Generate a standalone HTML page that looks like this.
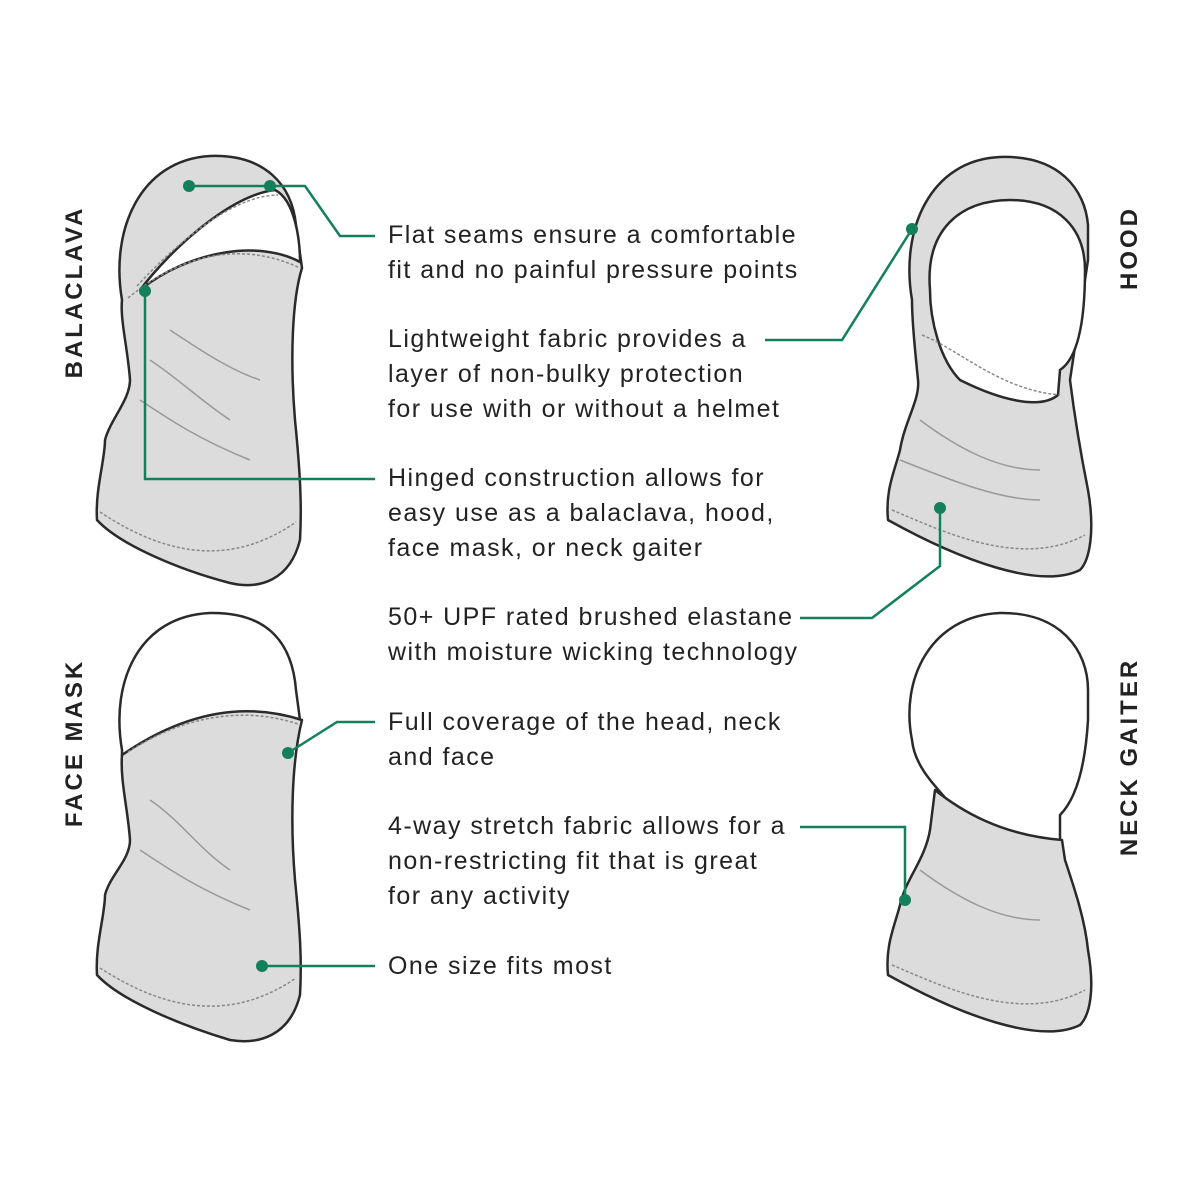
<!DOCTYPE html>
<html><head><meta charset="utf-8"><style>
html,body{margin:0;padding:0;background:#fff;}
svg{display:block}
text{font-family:"Liberation Sans",sans-serif;fill:#222}
.t{font-size:25px;letter-spacing:1.45px}
.v{font-size:24px;font-weight:bold;letter-spacing:3px}
.g{fill:#dcdcdc;stroke:#2a2a2a;stroke-width:2.5;stroke-linejoin:round}
.w{fill:#fff;stroke:#2a2a2a;stroke-width:2.5}
.s{fill:none;stroke:#888;stroke-width:1.5;stroke-dasharray:3 2}
.c{fill:none;stroke:#13805b;stroke-width:2.5}
.d{fill:#13805b}
.f{fill:none;stroke:#999;stroke-width:1.5}
</style></head><body>
<svg width="1200" height="1200" viewBox="0 0 1200 1200">
<!-- BALACLAVA -->
<path class="g" d="M122,300 C110,230 140,160 210,156 C265,154 292,185 296,225 L302,268 C292,300 290,360 295,420 C300,470 302,505 300,540 C290,580 260,590 230,583 C180,570 120,545 97,520 C95,490 105,460 105,440 C110,420 130,400 130,380 C128,350 120,320 122,300Z"/>
<path class="w" d="M140,290 C170,250 230,195 275,190 C295,200 300,240 300,262 C260,240 190,250 140,290Z"/>
<path class="s" d="M128,298 C180,255 240,240 300,268"/>
<path class="s" d="M137,286 C170,250 230,195 278,195"/>
<path class="s" d="M100,512 C150,545 220,575 296,522"/>
<path class="f" d="M150,360 C180,380 200,400 230,420 M140,400 C170,420 200,440 250,460 M170,330 C200,350 230,370 260,380"/>
<!-- HOOD -->
<path class="g" d="M912,300 C900,230 930,160 1000,157 C1060,155 1085,190 1088,225 L1088,260 L1070,380 C1075,420 1080,450 1088,490 C1095,530 1090,560 1080,570 C1040,590 960,560 888,520 C885,490 895,470 900,450 C905,420 920,400 918,380 C915,350 912,320 912,300Z"/>
<path class="w" d="M930,290 C925,230 960,200 1010,200 C1060,200 1085,230 1085,270 C1085,330 1075,360 1060,370 L1058,395 C1040,410 1000,400 960,380 C940,360 930,320 930,290Z"/>
<path class="s" d="M922,335 C960,350 1000,390 1060,395"/>
<path class="s" d="M892,510 C940,530 1020,570 1085,535"/>
<path class="f" d="M920,420 C960,450 1000,470 1040,470 M900,460 C950,480 1000,500 1040,500"/>
<!-- FACE MASK -->
<path class="w" d="M122,750 C110,680 140,616 210,613 C265,612 292,640 296,690 L300,720 L122,755Z"/>
<path class="g" d="M122,755 C180,715 240,700 302,720 C292,760 290,820 295,880 C300,930 302,960 300,995 C290,1035 260,1045 230,1040 C180,1025 120,1000 97,975 C95,945 105,915 105,895 C110,875 130,860 130,840 C128,810 120,780 122,755Z"/>
<path class="s" d="M128,752 C180,718 240,705 298,724"/>
<path class="s" d="M100,968 C150,1000 220,1030 296,978"/>
<path class="f" d="M150,800 C180,820 200,850 230,870 M140,850 C170,870 200,890 250,910"/>
<!-- NECK GAITER -->
<path class="w" d="M912,740 C900,680 930,616 1000,613 C1060,612 1088,650 1088,690 L1088,720 C1085,770 1075,800 1060,815 L1060,840 C1030,840 990,830 960,815 C940,790 915,770 912,740Z"/>
<path class="g" d="M935,790 C960,810 1000,835 1062,840 L1065,860 C1075,890 1085,920 1088,950 C1095,990 1090,1015 1080,1025 C1040,1045 960,1015 888,975 C885,945 895,925 900,905 C905,880 925,860 930,830Z"/>
<path class="s" d="M892,965 C940,985 1020,1025 1085,990"/>
<path class="f" d="M920,870 C960,900 1000,920 1040,920"/>
<!-- vertical labels -->
<text class="v" transform="translate(82,292) rotate(-90)" text-anchor="middle">BALACLAVA</text>
<text class="v" transform="translate(1137,248) rotate(-90)" text-anchor="middle">HOOD</text>
<text class="v" transform="translate(82,743) rotate(-90)" text-anchor="middle">FACE MASK</text>
<text class="v" transform="translate(1137,757) rotate(-90)" text-anchor="middle">NECK GAITER</text>
<!-- connectors -->
<path class="c" d="M189,186 L305,186 L340,236 L375,236"/>
<circle class="d" cx="189" cy="186" r="6"/><circle class="d" cx="270" cy="186" r="6"/>
<path class="c" d="M765,340 L842,340 L912,229"/><circle class="d" cx="912" cy="229" r="6"/>
<path class="c" d="M145,291 L145,479 L375,479"/><circle class="d" cx="145" cy="291" r="6"/>
<path class="c" d="M800,618 L872,618 L940,566 L940,508"/><circle class="d" cx="940" cy="508" r="6"/>
<path class="c" d="M288,753 L337,722 L375,722"/><circle class="d" cx="288" cy="753" r="6"/>
<path class="c" d="M800,827 L905,827 L905,900"/><circle class="d" cx="905" cy="900" r="6"/>
<path class="c" d="M262,966 L375,966"/><circle class="d" cx="262" cy="966" r="6"/>
<!-- text -->
<text class="t" x="388" y="243">Flat seams ensure a comfortable</text>
<text class="t" x="388" y="278">fit and no painful pressure points</text>
<text class="t" x="388" y="347">Lightweight fabric provides a</text>
<text class="t" x="388" y="382">layer of non-bulky protection</text>
<text class="t" x="388" y="417">for use with or without a helmet</text>
<text class="t" x="388" y="486">Hinged construction allows for</text>
<text class="t" x="388" y="521">easy use as a balaclava, hood,</text>
<text class="t" x="388" y="556">face mask, or neck gaiter</text>
<text class="t" x="388" y="625">50+ UPF rated brushed elastane</text>
<text class="t" x="388" y="660">with moisture wicking technology</text>
<text class="t" x="388" y="730">Full coverage of the head, neck</text>
<text class="t" x="388" y="765">and face</text>
<text class="t" x="388" y="834">4-way stretch fabric allows for a</text>
<text class="t" x="388" y="869">non-restricting fit that is great</text>
<text class="t" x="388" y="904">for any activity</text>
<text class="t" x="388" y="974">One size fits most</text>
</svg>
</body></html>
